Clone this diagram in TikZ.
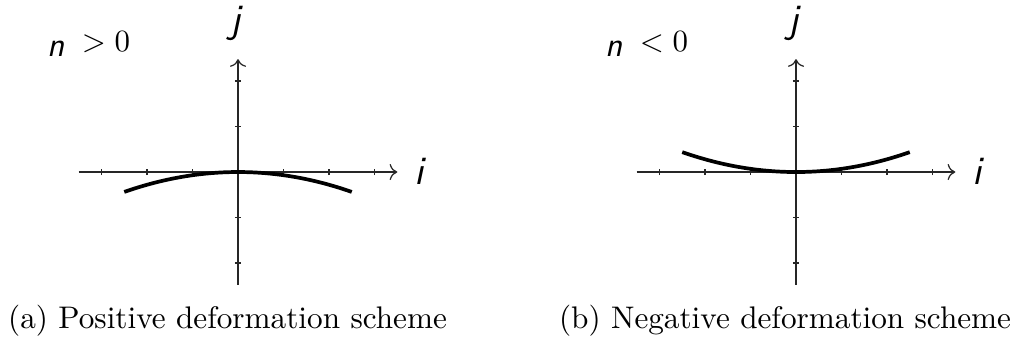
\documentclass[tikz,border=0pt]{standalone}
\usepackage{amsmath, amssymb}
\usepackage{tikz}
\usetikzlibrary{arrows.meta}

\begin{document}
\begin{tikzpicture}[
  x=0.5175cm, y=0.5175cm,
  axis/.style={->, thin, black!85},
  tick/.style={thin, black!85},
  curve/.style={very thick, black},
  axlabel/.style={font=\fontsize{13}{15}\selectfont\sffamily\itshape,
                  inner sep=0pt},
  sign/.style={font=\normalsize, inner sep=0pt, anchor=base west},
  caption/.style={font=\fontsize{10.1}{12}\selectfont, inner sep=0pt,
                  anchor=base}
]
\useasboundingbox (-5.23,-3.65) rectangle (17.05,3.78);

%% ── (a) POSITIVE ────────────────────────────────────────────────
\draw[axis] (-3.5,0) -- (3.5,0);
\draw[axis] (0,-2.48) -- (0,2.48);
\foreach \t in {-3,-2,-1,1,2,3}
  \draw[tick] (\t,-0.07) -- (\t,0.07);
\foreach \t in {-2,-1,1,2}
  \draw[tick] (-0.07,\t) -- (0.07,\t);
\draw[curve] plot[domain=-2.5:2.5, samples=60] (\x, {-0.07*\x*\x});

\node[axlabel, anchor=base] (ja) at (-0.05, 3.06) {j};
\node[axlabel, anchor=base west] (ia) at (3.87, -0.27) {i};
\node[sign] (ka) at (-4.2, 2.64)
  {$\raisebox{-1.5pt}{\fontsize{11}{13}\selectfont\textsf{\textit{n}}}\; > 0$};
\node[caption] (capa) at (-0.23, -3.43) {(a) Positive deformation scheme};

%% ── (b) NEGATIVE ────────────────────────────────────────────────
\begin{scope}[shift={(12.26,0)}]
\draw[axis] (-3.5,0) -- (3.5,0);
\draw[axis] (0,-2.48) -- (0,2.48);
\foreach \t in {-3,-2,-1,1,2,3}
  \draw[tick] (\t,-0.07) -- (\t,0.07);
\foreach \t in {-2,-1,1,2}
  \draw[tick] (-0.07,\t) -- (0.07,\t);
\draw[curve] plot[domain=-2.5:2.5, samples=60] (\x, {0.07*\x*\x});

\node[axlabel, anchor=base] (jb) at (-0.05, 3.06) {j};
\node[axlabel, anchor=base west] (ib) at (3.87, -0.27) {i};
\node[sign] (kb) at (-4.2, 2.64)
  {$\raisebox{-1.5pt}{\fontsize{11}{13}\selectfont\textsf{\textit{n}}}\; < 0$};
\node[caption] (capb) at (-0.24, -3.43) {(b) Negative deformation scheme};
\end{scope}

\end{tikzpicture}
\end{document}
